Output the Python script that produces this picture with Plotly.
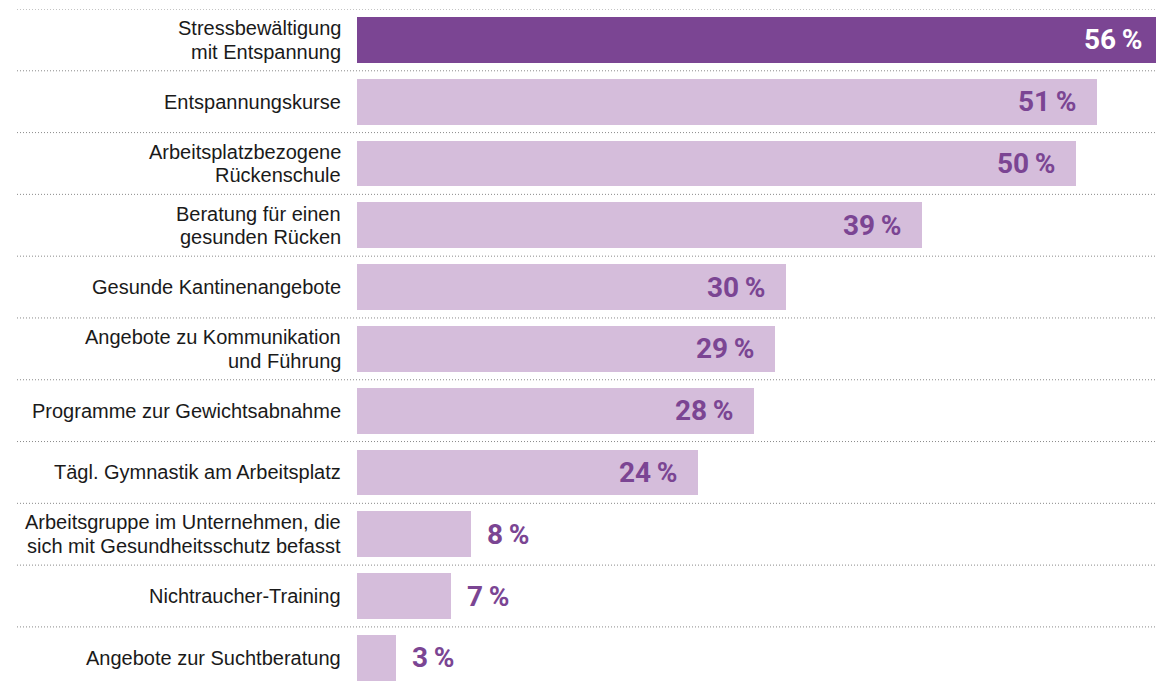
import plotly.graph_objects as go

categories = [
    "Stressbewältigung\nmit Entspannung",
    "Entspannungskurse",
    "Arbeitsplatzbezogene\nRückenschule",
    "Beratung für einen\ngesunden Rücken",
    "Gesunde Kantinenangebote",
    "Angebote zu Kommunikation\nund Führung",
    "Programme zur Gewichtsabnahme",
    "Tägl. Gymnastik am Arbeitsplatz",
    "Arbeitsgruppe im Unternehmen, die\nsich mit Gesundheitsschutz befasst",
    "Nichtraucher-Training",
    "Angebote zur Suchtberatung",
]
values = [56.0, 51.4, 49.9, 39.2, 29.8, 29.0, 27.6, 23.7, 7.9, 6.5, 2.7]
value_labels = ["56\u2009%", "51\u2009%", "50\u2009%", "39\u2009%", "30\u2009%", "29\u2009%",
                "28\u2009%", "24\u2009%", "8\u2009%", "7\u2009%", "3\u2009%"]

DARK = "#7B4593"
LIGHT = "#D5BDDB"
TEXT = "#1a1a1a"
LABEL_FONT = "Liberation Sans, Arial, sans-serif"
VALUE_FONT = "Roboto, Liberation Sans, sans-serif"

n = len(categories)
positions = list(range(n))
colors = [DARK] + [LIGHT] * (n - 1)

fig = go.Figure(
    go.Bar(
        x=values,
        y=positions,
        orientation="h",
        width=0.741,
        marker=dict(color=colors, line=dict(width=0)),
        hoverinfo="skip",
    )
)

annotations = []
# category labels (each line separately to control line spacing)
for i, cat in enumerate(categories):
    lines = cat.split("\n")
    pitch = 23.5
    k = len(lines)
    for j, line in enumerate(lines):
        shift = ((k - 1) / 2 - j) * pitch
        annotations.append(dict(
            x=0, y=i, xref="x", yref="y", text=line, showarrow=False,
            xanchor="right", yanchor="middle", xshift=-14, yshift=shift,
            font=dict(family=LABEL_FONT, size=20, color=TEXT),
        ))

# value labels
for i, (v, lab) in enumerate(zip(values, value_labels)):
    inside = v > 15
    if inside:
        col = "white" if i == 0 else DARK
        annotations.append(dict(
            x=v, y=i, xref="x", yref="y", text="<b>" + lab + "</b>", showarrow=False,
            xanchor="right", yanchor="middle", xshift=-18,
            font=dict(family=VALUE_FONT, size=28, color=col),
        ))
    else:
        annotations.append(dict(
            x=v, y=i, xref="x", yref="y", text="<b>" + lab + "</b>", showarrow=False,
            xanchor="left", yanchor="middle", xshift=14,
            font=dict(family=VALUE_FONT, size=28, color=DARK),
        ))

# dotted separators
shapes = []
for k in range(n):
    yb = k - 0.5
    shapes.append(dict(
        type="line", xref="paper", yref="y", x0=-0.4213, x1=1.0, y0=yb, y1=yb,
        line=dict(color="#8a8a8a", width=1, dash="1px,2px"), layer="below",
    ))

fig.update_layout(
    width=1156, height=677,
    margin=dict(l=349, r=0, t=1, b=0, pad=0),
    paper_bgcolor="white", plot_bgcolor="white",
    showlegend=False,
    bargap=0,
    xaxis=dict(range=[0, 56.04], visible=False, fixedrange=True),
    yaxis=dict(range=[10.44, -0.5], visible=False, fixedrange=True),
    annotations=annotations,
    shapes=shapes,
)

fig.write_html("out.html", config={"displayModeBar": False})
